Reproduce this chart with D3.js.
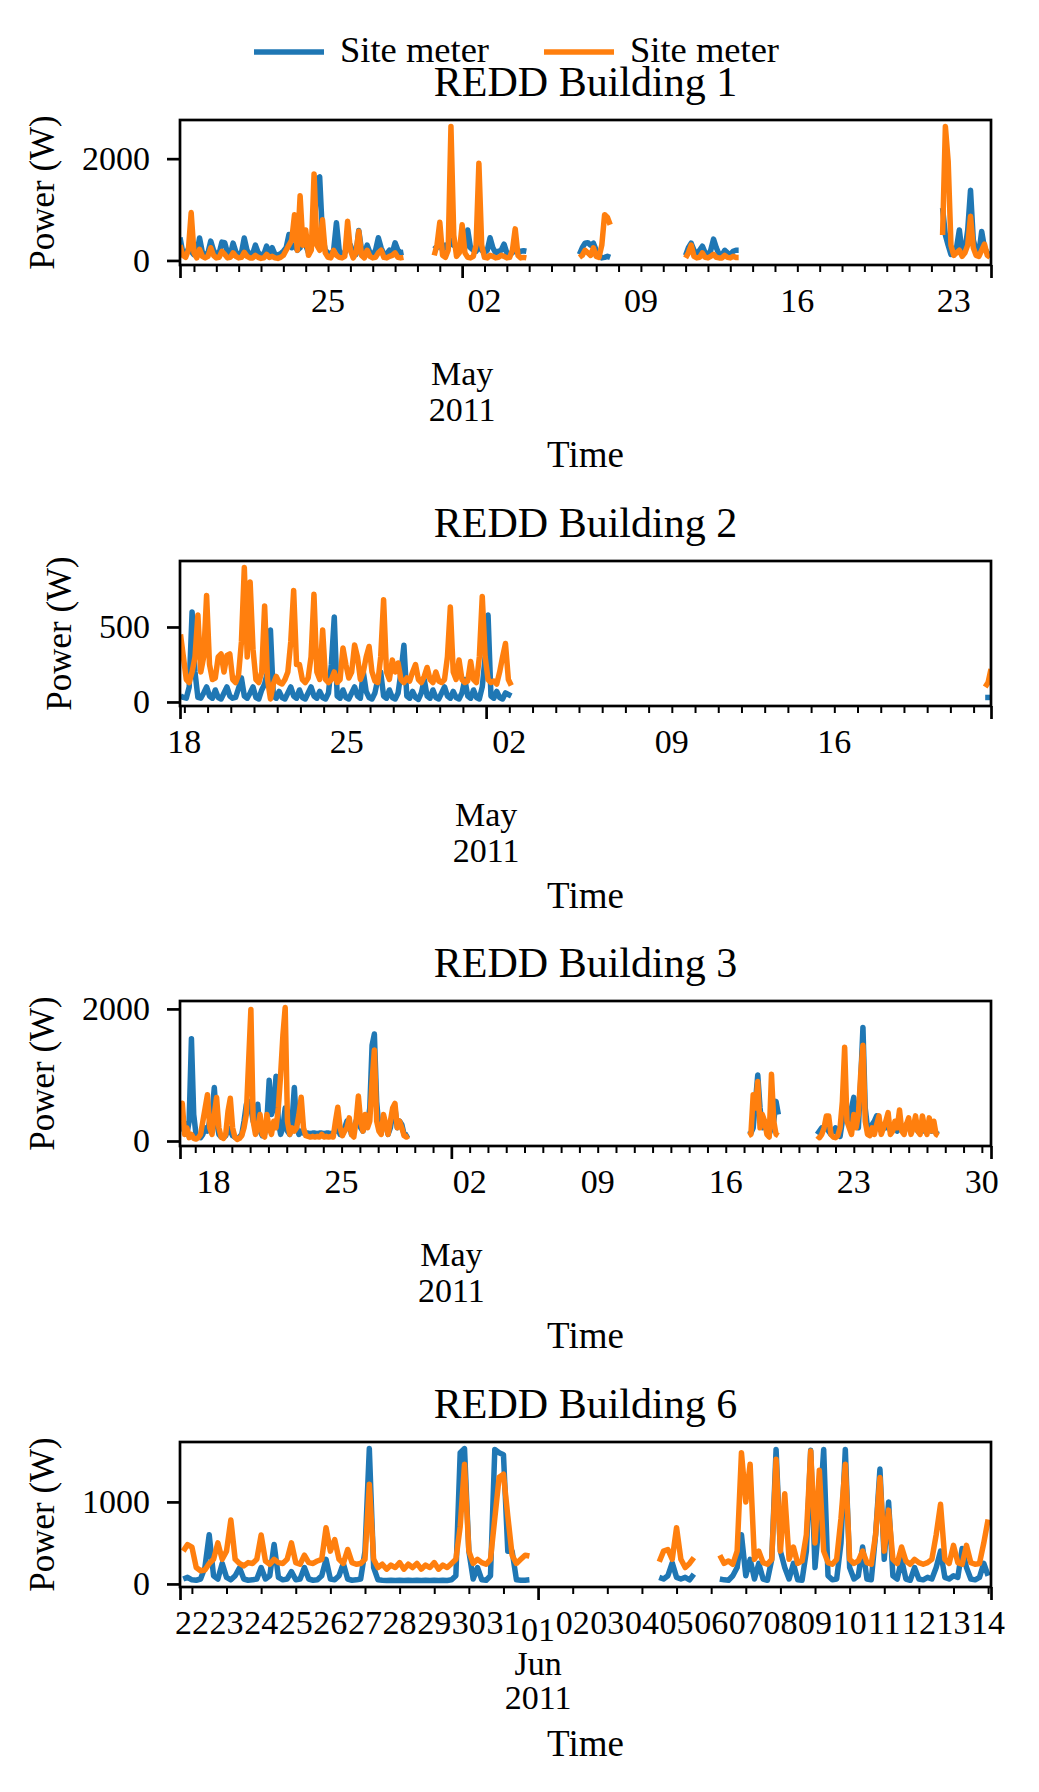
<!DOCTYPE html>
<html>
<head>
<meta charset="utf-8">
<script src="https://cdn.jsdelivr.net/npm/d3@7"></script>
<style>
  body { margin: 0; background: #fff; }
  text { font-family: "Liberation Serif", "DejaVu Serif", serif; fill: #000; }
</style>
</head>
<body>
<svg></svg>
<script>
//Setting
const width = 1039;
const height = 1792;
const left = 180, right = 991, axH = 145;
const blue = "#1f77b4", orange = "#ff7f0e";
const stepHours = 3;

//Data: every segment is sampled each 3 hours from its start time
const seriesNames = ["Site meter", "Site meter"];

// Building 1
const b1Range = ["2011-04-18T09:00", "2011-05-24T16:00"];
const b1YTicks = [0, 2000];
const b1Starts = ["2011-04-18T09:00", "2011-04-29T18:00", "2011-05-06T06:00", "2011-05-11T00:00", "2011-05-22T12:00"];
const b1Blue = [
  [450,150,110,230,180, 110,120,440,160,110, 150,380,200,110,140, 360,350,150,110,340,
   170,110,150,440,200, 110,130,300,150,110, 120,280,130,250,120, 110,130,180,250,510,
   250,300,200,250,600, 300,150,400,500,1600, 1640,500,200,150,120, 200,740,200,120,150,
   250,300,150,120,590, 200,120,300,150,110, 200,445,250,120,130, 200,150,347,200,150, 160],
  [300,250,350,200,300,250,400,300,250,300,350,250,600,250,200,180,300,200,150,200,
   445,250,150,180,200,320,150,130,150,200,150,180,190,180],
  [120,250,340,350,300,340,200,100,50,60,80,60],
  [100,250,340,200,120,200,280,150,100,200,420,250,120,100,200,150,120,180,200,200],
  [1030,500,300,120,150,250,600,150,200,600,1380,400,200,150,570,250,150,100]
];
const b1Orange = [
  [300,100,60,200,940, 150,50,220,80,50, 80,250,100,50,60, 180,120,50,60,150,
   80,50,60,160,80, 50,50,100,60,40, 50,120,60,80,50, 40,60,100,200,300,
   400,900,200,1270,300, 600,100,200,1700,300, 200,800,150,60,50, 200,100,60,50,80,
   770,200,50,150,575, 100,50,200,80,50, 60,150,200,60,50, 80,100,150,60,50, 60],
  [100,300,750,100,60,200,2630,500,80,150,700,150,60,50,80,300,1910,300,60,50,
   100,80,50,60,100,80,50,60,200,620,100,50,60,50],
  [60,100,200,150,100,250,80,60,300,900,850,700],
  [50,150,300,80,50,60,150,60,50,80,120,60,50,50,100,60,50,80,60,60],
  [500,2630,1950,300,100,150,200,80,150,300,870,250,100,80,200,320,100,60]
];

// Building 2
const b2Range = ["2011-04-17T19:30", "2011-05-22T18:00"];
const b2YTicks = [0, 500];
const b2Starts = ["2011-04-17T20:00", "2011-05-22T12:00"];
const b2Blue = [
  [40,30,25,100,600,200,30,25, 60,100,40,25,80,30,20,60, 100,40,25,30,90,160,40,25,
   60,100,30,20,80,120,200,480, 40,25,70,30,20,60,100,40, 25,80,30,20,60,100,40,25,
   70,30,20,60,250,567,40,25, 80,30,20,60,100,40,25,200, 70,30,20,60,150,200,40,25,
   80,30,20,60,200,378,40,25, 70,30,17,60,150,40,25,80, 30,20,60,100,40,25,70,30,
   20,60,150,40,25,80,30,20, 100,300,580,40,25,70,30,20, 60,50,40],
  [30,30,30]
];
const b2Orange = [
  [450,300,150,130,200,300,580,200, 300,710,250,150,160,300,320,200, 310,320,150,130,180,400,896,300,
   800,350,150,130,200,640,150,20, 120,170,130,120,150,200,400,744, 250,250,150,130,160,300,718,200,
   150,480,150,130,150,200,130,150, 360,250,160,200,380,300,150,200, 300,370,200,140,130,300,682,200,
   150,280,200,260,150,130,160,140, 200,250,150,130,170,230,150,130, 200,140,130,150,300,633,200,150,
   280,150,130,140,270,150,130,300, 704,300,150,130,140,120,200,300, 390,150,110],
  [100,130,220]
];

// Building 3
const b3Range = ["2011-04-16T04:00", "2011-05-30T12:00"];
const b3YTicks = [0, 2000];
const b3Starts = ["2011-04-16T04:00", "2011-05-17T06:00", "2011-05-21T00:00"];
const b3Blue = [
  [150,250,270,100,300,1550,400,100, 60,50,100,200,150,300,400,810, 300,100,60,50,80,200,150,80,
   60,40,60,100,300,550,600,500, 300,200,555,150,80,100,300,920, 400,500,980,300,100,200,500,150,
   100,300,810,200,100,150,120,120, 120,110,120,120,110,120,120,110, 120,120,110,120,150,200,100,150,
   200,300,250,100,200,300,400,200, 150,300,250,500,1450,1620,600,200, 150,300,250,100,200,400,500,200,
   300,250,100,80,100],
  [100,120,200,600,1000,500,200,300,150,100,200,300,600,400],
  [100,150,200,180,200,150,100,150, 200,100,70,300,600,400,300,500, 660,300,200,900,1720,500,200,150,
   250,300,380,200,150,250,200,300, 150,200,250,150,300,200,150,250, 200,150,200,250,150,200,250,150,
   200,250,150,200,120,100]
];
const b3Orange = [
  [300,570,100,200,50,100,40,30, 50,100,300,500,700,200,100,400, 660,200,60,40,100,450,646,200,
   60,24,40,80,200,400,1200,1990, 300,100,200,400,100,60,400,200, 100,300,200,500,1000,1600,2020,300,
   100,200,150,200,400,662,200,80, 70,60,70,60,70,60,100,60, 70,60,70,60,300,510,200,80,
   150,200,350,100,60,300,682,300, 150,400,200,300,900,1379,300,150, 100,400,250,100,300,500,570,200,
   300,200,80,60,80],
  [80,100,700,500,900,200,400,300,100,60,1010,300,100,80],
  [80,50,100,200,380,380,100,60, 50,80,200,600,1420,300,200,100, 400,200,400,1000,1450,300,100,80,
   200,100,250,380,100,200,300,430, 100,150,300,200,470,150,100,250, 350,100,200,380,150,100,380,200,
   100,350,150,300,100,80]
];

// Building 6
const b6Range = ["2011-05-21T15:45", "2011-06-14T02:00"];
const b6YTicks = [0, 1000];
const b6Starts = ["2011-05-21T18:00", "2011-06-04T12:00", "2011-06-06T06:00"];
const b6Blue = [
  [60,80,50,45,60,200,600,100, 60,250,80,50,100,196,60,45, 50,60,200,60,100,481,80,50,
   60,150,50,60,200,60,45,50, 100,300,60,50,100,250,60,45, 50,60,400,1650,200,50,45,43,
   45,43,45,43,45,43,45,43, 45,43,45,43,45,43,50,100, 1600,1650,400,60,200,50,45,100,
   1640,1600,1575,400,400,50,45,45, 50],
  [80,60,100,257,80,60,80,50,120],
  [60,50,45,100,200,600,100,300, 60,250,60,45,300,1640,400,200, 60,250,50,45,400,1630,200,800,
   1640,100,50,60,500,1640,200,60, 100,450,60,50,600,1400,300,1000, 100,60,300,60,45,200,60,50,
   80,60,200,400,80,60,100,80, 432,200,60,50,80,250,100]
];
const b6Orange = [
  [400,480,450,200,160,170,250,300, 500,300,400,780,300,250,220,260, 250,300,596,280,240,300,260,250,
   300,500,260,240,350,260,250,280, 300,685,400,540,300,250,420,260, 240,250,300,1216,300,200,240,180,
   230,200,260,180,240,200,250,180, 230,200,260,180,230,200,250,300, 700,1460,400,250,300,260,240,300,
   800,1300,1338,828,350,250,300,350, 340],
  [270,400,420,300,685,300,200,250,320],
  [350,250,280,240,400,1600,1000,1460, 300,400,260,240,300,1520,400,1100, 300,450,250,280,600,1620,500,1387,
   400,260,240,300,800,1460,300,250, 280,400,260,240,600,1297,400,900, 300,250,450,280,240,300,260,240,
   260,300,600,971,300,250,470,260, 240,470,260,240,250,500,787]
];

//Shorten
const parse = d3.timeParse("%Y-%m-%dT%H:%M");
const svg = d3.select("svg")
  .attr("width", width)
  .attr("height", height);

svg.append("rect").attr("width", width).attr("height", height).attr("fill", "#fff");

// legend
const legend = svg.append("g").attr("id", "legend");
[[254, blue], [544, orange]].forEach(([lx, c], i) => {
  legend.append("line")
    .attr("x1", lx).attr("x2", lx + 70)
    .attr("y1", 52).attr("y2", 52)
    .attr("stroke", c).attr("stroke-width", 5.5);
  legend.append("text")
    .attr("x", lx + 86).attr("y", 62)
    .style("font-size", "36.5px")
    .text(seriesNames[i]);
});

function toPoints(starts, segs) {
  return segs.map((vals, k) => {
    const t0 = parse(starts[k]);
    return vals.map((v, i) => ({ t: d3.timeHour.offset(t0, i * stepHours), v: v }));
  });
}

const panels = [
  { id: 1, title: "REDD Building 1", range: b1Range, starts: b1Starts, blue: b1Blue, orange: b1Orange, yTicks: b1YTicks, top: 120, daily: false },
  { id: 2, title: "REDD Building 2", range: b2Range, starts: b2Starts, blue: b2Blue, orange: b2Orange, yTicks: b2YTicks, top: 561, daily: false },
  { id: 3, title: "REDD Building 3", range: b3Range, starts: b3Starts, blue: b3Blue, orange: b3Orange, yTicks: b3YTicks, top: 1001, daily: false },
  { id: 6, title: "REDD Building 6", range: b6Range, starts: b6Starts, blue: b6Blue, orange: b6Orange, yTicks: b6YTicks, top: 1442, daily: true }
];

panels.forEach(drawPanel);

function drawPanel(p) {
  const top = p.top, bottom = p.top + axH;
  const dom = p.range.map(parse);
  const x = d3.scaleTime().domain(dom).range([left, right]);

  const blueSegs = toPoints(p.starts, p.blue);
  const orangeSegs = toPoints(p.starts, p.orange);
  const vals = blueSegs.concat(orangeSegs).flat().map(d => d.v);
  const [lo, hi] = d3.extent(vals);
  const pad = (hi - lo) * 0.05;
  const y = d3.scaleLinear().domain([lo - pad, hi + pad]).range([bottom, top]);

  const g = svg.append("g").attr("class", "panel");

  svg.append("clipPath").attr("id", "clip" + p.id)
    .append("rect")
    .attr("x", left).attr("y", top)
    .attr("width", right - left).attr("height", axH);

  const line = d3.line().x(d => x(d.t)).y(d => y(d.v));
  const plot = g.append("g").attr("clip-path", `url(#clip${p.id})`);

  [[blueSegs, blue], [orangeSegs, orange]].forEach(([segs, c]) => {
    plot.selectAll(null)
      .data(segs)
      .enter()
      .append("path")
      .attr("d", line)
      .attr("fill", "none")
      .attr("stroke", c)
      .attr("stroke-width", 5.5)
      .attr("stroke-linejoin", "round");
  });

  // frame
  g.append("rect")
    .attr("x", left).attr("y", top)
    .attr("width", right - left).attr("height", axH)
    .attr("fill", "none").attr("stroke", "#000").attr("stroke-width", 2.7);

  // y axis
  const yAxis = g.append("g")
    .attr("transform", `translate(${left},0)`)
    .call(d3.axisLeft(y).tickValues(p.yTicks).tickSize(13).tickPadding(17).tickFormat(d3.format("d")));
  yAxis.select(".domain").remove();
  yAxis.selectAll("line").attr("stroke", "#000").attr("stroke-width", 2.7);
  yAxis.selectAll("text").style("font-size", "34px").attr("font-family", null);

  // x ticks
  const monthStart = d3.timeMonth.ceil(dom[0]);
  const days = d3.timeDay.range(d3.timeDay.ceil(dom[0]), dom[1])
    .filter(d => +d !== +monthStart);
  const minor = g.append("g")
    .attr("transform", `translate(0,${bottom})`)
    .call(d3.axisBottom(x).tickValues(days).tickSize(7).tickFormat(""));
  minor.select(".domain").remove();
  minor.selectAll("line").attr("stroke", "#000").attr("stroke-width", 2);

  const major = g.append("g")
    .attr("transform", `translate(0,${bottom})`)
    .call(d3.axisBottom(x).tickValues([dom[0], monthStart, dom[1]]).tickSize(13).tickFormat(""));
  major.select(".domain").remove();
  major.selectAll("line").attr("stroke", "#000").attr("stroke-width", 2.7);

  // x labels
  const labelDays = p.daily ? days : d3.timeMonday.range(dom[0], dom[1]);
  g.selectAll(null)
    .data(labelDays)
    .enter()
    .append("text")
    .attr("x", d => x(d))
    .attr("y", bottom + 47)
    .attr("text-anchor", "middle")
    .style("font-size", "34px")
    .text(d3.timeFormat("%d"));

  const mx = x(monthStart);
  const mLines = p.daily
    ? [[d3.timeFormat("%d")(monthStart), 54], [d3.timeFormat("%b")(monthStart), 88], [d3.timeFormat("%Y")(monthStart), 122]]
    : [[d3.timeFormat("%b")(monthStart), 120], [d3.timeFormat("%Y")(monthStart), 156]];
  mLines.forEach(([txt, dy]) => {
    g.append("text")
      .attr("x", mx).attr("y", bottom + dy)
      .attr("text-anchor", "middle")
      .style("font-size", "34px")
      .text(txt);
  });

  g.append("text")
    .attr("x", (left + right) / 2)
    .attr("y", bottom + (p.daily ? 169 : 202))
    .attr("text-anchor", "middle")
    .style("font-size", "37px")
    .text("Time");

  // y label
  const digits = d3.max(p.yTicks, d => String(d).length);
  const lx = 150 - digits * 17 - 28;
  g.append("text")
    .attr("transform", `translate(${lx},${top + axH / 2}) rotate(-90)`)
    .attr("text-anchor", "middle")
    .style("font-size", "35px")
    .text("Power (W)");

  // title
  g.append("text")
    .attr("x", (left + right) / 2)
    .attr("y", top - 24)
    .attr("text-anchor", "middle")
    .style("font-size", "42px")
    .text(p.title);
}
</script>
</body>
</html>
